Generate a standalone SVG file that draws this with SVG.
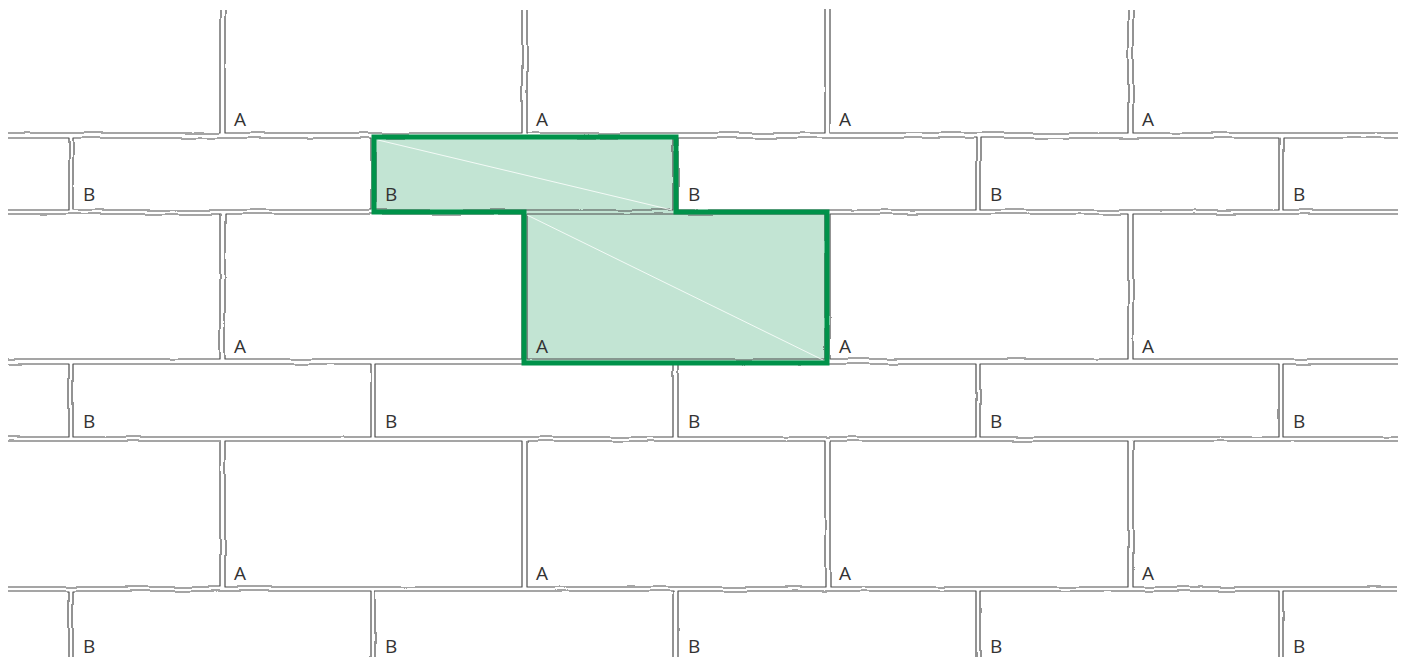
<svg xmlns="http://www.w3.org/2000/svg" width="1406" height="657" viewBox="0 0 1406 657">
<style>
.t{fill:none;stroke:#4d4d4d;stroke-width:1.2;stroke-linejoin:round}
.lbl{font-family:"Open Sans","Liberation Sans",sans-serif;font-size:19px;fill:#333}
.hl{fill:none;stroke:#00924a;stroke-width:5;stroke-linejoin:miter}
.dg{stroke:#fff;stroke-width:0.9;opacity:0.9}
</style>
<defs>
<filter id="wob" filterUnits="userSpaceOnUse" x="0" y="0" width="1406" height="657">
<feTurbulence type="fractalNoise" baseFrequency="0.025" numOctaves="2" seed="4" result="n"/>
<feDisplacementMap in="SourceGraphic" in2="n" scale="3" xChannelSelector="R" yChannelSelector="G"/>
</filter>
</defs>
<rect width="1406" height="657" fill="#fff"/>
<g id="highlight-fill">
<path d="M374,137 H676 V212 H827 V363 H524 V212 H374 Z" fill="#c2e4d3"/>
</g>
<g id="tiles" filter="url(#wob)">
<path class="t" d="M8,133 H220 V10"/>
<path class="t" d="M225,10 V133 H522 V10"/>
<path class="t" d="M527,10 V133 H825 V10"/>
<path class="t" d="M830,10 V133 H1128 V10"/>
<path class="t" d="M1133,10 V133 H1398"/>
<path class="t" d="M8,138 H69 V210 H8"/>
<path class="t" d="M73,138 H371 V210 H73 Z"/>
<path class="t" d="M375,138 H673 V210 H375 Z"/>
<path class="t" d="M678,138 H976 V210 H678 Z"/>
<path class="t" d="M980,138 H1279 V210 H980 Z"/>
<path class="t" d="M1398,138 H1283 V210 H1398"/>
<path class="t" d="M8,214 H220 V359 H8"/>
<path class="t" d="M225,214 H522 V359 H225 Z"/>
<path class="t" d="M527,214 H825 V359 H527 Z"/>
<path class="t" d="M830,214 H1128 V359 H830 Z"/>
<path class="t" d="M1398,214 H1133 V359 H1398"/>
<path class="t" d="M8,364 H69 V437 H8"/>
<path class="t" d="M73,364 H371 V437 H73 Z"/>
<path class="t" d="M375,364 H673 V437 H375 Z"/>
<path class="t" d="M678,364 H976 V437 H678 Z"/>
<path class="t" d="M980,364 H1279 V437 H980 Z"/>
<path class="t" d="M1398,364 H1283 V437 H1398"/>
<path class="t" d="M8,441 H220 V587 H8"/>
<path class="t" d="M225,441 H522 V587 H225 Z"/>
<path class="t" d="M527,441 H825 V587 H527 Z"/>
<path class="t" d="M830,441 H1128 V587 H830 Z"/>
<path class="t" d="M1398,441 H1133 V587 H1398"/>
<path class="t" d="M8,591 H69 V670"/>
<path class="t" d="M73,670 V591 H371 V670"/>
<path class="t" d="M375,670 V591 H673 V670"/>
<path class="t" d="M678,670 V591 H976 V670"/>
<path class="t" d="M980,670 V591 H1279 V670"/>
<path class="t" d="M1283,670 V591 H1398"/>
</g>
<g id="highlight">
<line class="dg" x1="378" y1="140" x2="672" y2="210"/>
<line class="dg" x1="527" y1="215" x2="823" y2="360"/>
<path class="hl" d="M374,137 H676 V212 H827 V363 H524 V212 H374 Z"/>
</g>
<g id="labels">
<text class="lbl" x="234" y="126">A</text>
<text class="lbl" x="536" y="126">A</text>
<text class="lbl" x="839" y="126">A</text>
<text class="lbl" x="1142" y="126">A</text>
<text class="lbl" x="83" y="201">B</text>
<text class="lbl" x="385" y="201">B</text>
<text class="lbl" x="688" y="201">B</text>
<text class="lbl" x="990" y="201">B</text>
<text class="lbl" x="1293" y="201">B</text>
<text class="lbl" x="234" y="353">A</text>
<text class="lbl" x="536" y="353">A</text>
<text class="lbl" x="839" y="353">A</text>
<text class="lbl" x="1142" y="353">A</text>
<text class="lbl" x="83" y="428">B</text>
<text class="lbl" x="385" y="428">B</text>
<text class="lbl" x="688" y="428">B</text>
<text class="lbl" x="990" y="428">B</text>
<text class="lbl" x="1293" y="428">B</text>
<text class="lbl" x="234" y="580">A</text>
<text class="lbl" x="536" y="580">A</text>
<text class="lbl" x="839" y="580">A</text>
<text class="lbl" x="1142" y="580">A</text>
<text class="lbl" x="83" y="653">B</text>
<text class="lbl" x="385" y="653">B</text>
<text class="lbl" x="688" y="653">B</text>
<text class="lbl" x="990" y="653">B</text>
<text class="lbl" x="1293" y="653">B</text>
</g>
</svg>
